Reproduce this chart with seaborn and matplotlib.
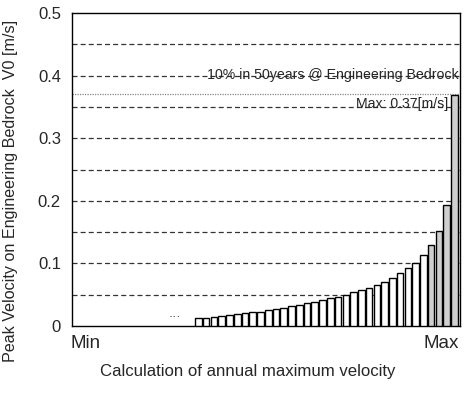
import matplotlib
matplotlib.use("Agg")
import matplotlib.pyplot as plt
import seaborn as sns
import pandas as pd
import numpy as np

# ---- data ----
velocities = [0.013, 0.013, 0.014, 0.016, 0.018, 0.019, 0.020, 0.022, 0.023, 0.026,
              0.027, 0.029, 0.032, 0.034, 0.036, 0.039, 0.041, 0.044, 0.047, 0.050,
              0.054, 0.057, 0.061, 0.065, 0.071, 0.076, 0.084, 0.092, 0.101, 0.113,
              0.129, 0.151, 0.193, 0.369]
shaded = [False] * 30 + [True] * 4
y_ticks = [0, 0.1, 0.2, 0.3, 0.4, 0.5]
y_tick_labels = ["0", "0.1", "0.2", "0.3", "0.4", "0.5"]
grid_levels = [0.05, 0.1, 0.15, 0.2, 0.25, 0.3, 0.35, 0.4, 0.45]
x_end_labels = ["Min", "Max"]
ref_level = 0.37
ref_text = "10% in 50years @ Engineering Bedrock"
max_text = "Max: 0.37[m/s]"

sns.set_style("white")
plt.rcParams['font.family'] = ['Liberation Sans', 'DejaVu Sans']

df = pd.DataFrame({"rank": list(range(len(velocities))),
                   "v": velocities,
                   "group": ["shaded" if s else "plain" for s in shaded]})

fig = plt.figure(figsize=(4.7, 3.94), dpi=100)
ax = fig.add_axes([72/470, 1 - 326/394, (460-72)/470, (326-13)/394])

sns.barplot(data=df, x="rank", y="v", hue="group", dodge=False,
            palette={"plain": "white", "shaded": "#cfcfcf"},
            edgecolor="black", linewidth=1.0, width=0.85, legend=False, ax=ax,
            native_scale=False, zorder=3)

for lv in grid_levels:
    ax.axhline(lv, color="#333333", lw=0.9, ls=(0, (4, 2.5)), zorder=1)
ax.axhline(ref_level, color="#888888", lw=0.9, ls=(0, (1, 1)), zorder=1)

ax.set_xlim(-16.3, 33.72)
ax.set_ylim(0, 0.5)
ax.set_yticks(y_ticks)
ax.set_yticklabels(y_tick_labels, fontsize=12)
ax.tick_params(axis="y", length=0, pad=8)
ax.set_xticks([])
ax.set_xlabel("Calculation of annual maximum velocity", fontsize=12.1)
ax.xaxis.set_label_coords(0.454, -0.12)
ax.set_ylabel("Peak Velocity on Engineering Bedrock  V0 [m/s]", fontsize=11.6)
ax.yaxis.set_label_coords(-0.139, 0.43)

ax.text(-0.005, -0.028, x_end_labels[0], transform=ax.transAxes, ha="left", va="top", fontsize=13.5)
ax.text(0.997, -0.028, x_end_labels[1], transform=ax.transAxes, ha="right", va="top", fontsize=13.5)
ax.text(0.997, 0.401, ref_text, transform=ax.get_yaxis_transform(),
        ha="right", va="center", fontsize=10.2, zorder=4)
ax.text(0.969, 0.355, max_text, transform=ax.get_yaxis_transform(),
        ha="right", va="center", fontsize=10.2, zorder=4)
ax.text(0.265, 0.008, "···", transform=ax.transAxes, ha="center", va="bottom", fontsize=9)

for s in ax.spines.values():
    s.set_color("black")
    s.set_linewidth(1.0)

fig.savefig("out.png", dpi=100)
